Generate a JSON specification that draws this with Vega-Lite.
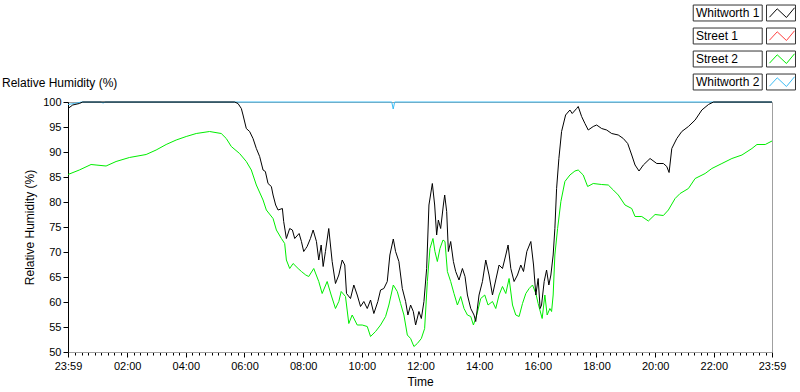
{
  "$schema": "https://vega.github.io/schema/vega-lite/v6.json",
  "width": 704,
  "height": 250,
  "autosize": {"type": "none"},
  "padding": {"left": 68, "top": 102, "right": 28, "bottom": 40},
  "background": "white",
  "title": {"text": "Relative Humidity (%)", "anchor": "start", "frame": "group", "dx": -66, "dy": 88, "offset": 0, "fontSize": 12, "fontWeight": "normal", "font": "Liberation Sans", "color": "#000"},
  "config": {
    "view": {"stroke": "#a0a0a0", "strokeWidth": 1},
    "axis": {"labelFont": "Liberation Sans", "titleFont": "Liberation Sans", "labelColor": "#000", "titleColor": "#000", "titleFontWeight": "normal", "grid": false, "tickColor": "#000"}
  },
  "datasets": {
    "s1": [],
    "w2": [{"t": -0.0167, "rh": 99.5}, {"t": 0.2, "rh": 99.7}, {"t": 0.45, "rh": 100}, {"t": 1.1, "rh": 100}, {"t": 1.18, "rh": 99.8}, {"t": 1.26, "rh": 100}, {"t": 11.02, "rh": 100}, {"t": 11.07, "rh": 98.6}, {"t": 11.12, "rh": 100}, {"t": 23.9833, "rh": 100}],
    "s2": [{"t": -0.0167, "rh": 85.5}, {"t": 0.369, "rh": 86.4}, {"t": 0.769, "rh": 87.5}, {"t": 0.939, "rh": 87.4}, {"t": 1.281, "rh": 87.2}, {"t": 1.622, "rh": 88.1}, {"t": 2.077, "rh": 88.9}, {"t": 2.647, "rh": 89.5}, {"t": 2.988, "rh": 90.4}, {"t": 3.33, "rh": 91.5}, {"t": 3.672, "rh": 92.4}, {"t": 4.013, "rh": 93.1}, {"t": 4.355, "rh": 93.7}, {"t": 4.809, "rh": 94.1}, {"t": 5.208, "rh": 93.7}, {"t": 5.379, "rh": 92.7}, {"t": 5.55, "rh": 91.1}, {"t": 5.833, "rh": 89.7}, {"t": 6.062, "rh": 88.1}, {"t": 6.233, "rh": 86.4}, {"t": 6.404, "rh": 83.4}, {"t": 6.633, "rh": 80.4}, {"t": 6.745, "rh": 78.4}, {"t": 6.974, "rh": 76.7}, {"t": 7.087, "rh": 74.4}, {"t": 7.258, "rh": 72.7}, {"t": 7.37, "rh": 71.7}, {"t": 7.428, "rh": 68.4}, {"t": 7.541, "rh": 66.7}, {"t": 7.657, "rh": 67.7}, {"t": 7.828, "rh": 66.7}, {"t": 7.941, "rh": 66.1}, {"t": 8.088, "rh": 65.4}, {"t": 8.19, "rh": 65.1}, {"t": 8.361, "rh": 66.7}, {"t": 8.532, "rh": 64.1}, {"t": 8.648, "rh": 61.7}, {"t": 8.818, "rh": 64.1}, {"t": 8.955, "rh": 61.4}, {"t": 9.102, "rh": 58.7}, {"t": 9.215, "rh": 60.1}, {"t": 9.297, "rh": 62.1}, {"t": 9.443, "rh": 61.1}, {"t": 9.556, "rh": 55.7}, {"t": 9.672, "rh": 57.4}, {"t": 9.843, "rh": 55.4}, {"t": 10.014, "rh": 55.4}, {"t": 10.185, "rh": 55.1}, {"t": 10.297, "rh": 53.1}, {"t": 10.468, "rh": 54.1}, {"t": 10.639, "rh": 55.4}, {"t": 10.81, "rh": 57.1}, {"t": 10.922, "rh": 59.4}, {"t": 11.073, "rh": 63.4}, {"t": 11.209, "rh": 62.1}, {"t": 11.322, "rh": 59.7}, {"t": 11.435, "rh": 57.4}, {"t": 11.551, "rh": 53.4}, {"t": 11.663, "rh": 52.7}, {"t": 11.776, "rh": 51.1}, {"t": 11.892, "rh": 51.7}, {"t": 12.029, "rh": 52.7}, {"t": 12.141, "rh": 54.7}, {"t": 12.234, "rh": 64.1}, {"t": 12.323, "rh": 70.7}, {"t": 12.425, "rh": 72.7}, {"t": 12.493, "rh": 70.1}, {"t": 12.575, "rh": 68.1}, {"t": 12.664, "rh": 70.7}, {"t": 12.767, "rh": 72.4}, {"t": 12.835, "rh": 72.1}, {"t": 12.917, "rh": 66.1}, {"t": 13.029, "rh": 64.1}, {"t": 13.142, "rh": 61.7}, {"t": 13.258, "rh": 59.4}, {"t": 13.371, "rh": 61.1}, {"t": 13.484, "rh": 58.7}, {"t": 13.6, "rh": 57.4}, {"t": 13.713, "rh": 57.1}, {"t": 13.805, "rh": 55.4}, {"t": 13.917, "rh": 57.4}, {"t": 14.054, "rh": 60.7}, {"t": 14.191, "rh": 61.4}, {"t": 14.303, "rh": 59.4}, {"t": 14.454, "rh": 60.1}, {"t": 14.566, "rh": 58.7}, {"t": 14.679, "rh": 61.4}, {"t": 14.795, "rh": 63.1}, {"t": 14.908, "rh": 61.7}, {"t": 15.021, "rh": 64.7}, {"t": 15.137, "rh": 59.4}, {"t": 15.249, "rh": 57.4}, {"t": 15.362, "rh": 57.1}, {"t": 15.478, "rh": 59.7}, {"t": 15.591, "rh": 61.7}, {"t": 15.704, "rh": 62.7}, {"t": 15.82, "rh": 63.4}, {"t": 15.933, "rh": 61.7}, {"t": 16.011, "rh": 59.7}, {"t": 16.148, "rh": 56.7}, {"t": 16.24, "rh": 61.4}, {"t": 16.318, "rh": 57.4}, {"t": 16.411, "rh": 58.7}, {"t": 16.469, "rh": 58.1}, {"t": 16.523, "rh": 61.4}, {"t": 16.581, "rh": 69.4}, {"t": 16.674, "rh": 74.7}, {"t": 16.786, "rh": 80.1}, {"t": 16.923, "rh": 84.1}, {"t": 17.094, "rh": 85.4}, {"t": 17.265, "rh": 86.2}, {"t": 17.377, "rh": 86.4}, {"t": 17.548, "rh": 85.4}, {"t": 17.698, "rh": 83.1}, {"t": 17.889, "rh": 83.7}, {"t": 18.176, "rh": 83.5}, {"t": 18.402, "rh": 83.4}, {"t": 18.573, "rh": 82.4}, {"t": 18.743, "rh": 81.4}, {"t": 18.972, "rh": 79.4}, {"t": 19.201, "rh": 78.7}, {"t": 19.314, "rh": 77.1}, {"t": 19.543, "rh": 77.1}, {"t": 19.768, "rh": 76.2}, {"t": 19.997, "rh": 77.5}, {"t": 20.28, "rh": 77.3}, {"t": 20.451, "rh": 78.4}, {"t": 20.68, "rh": 80.7}, {"t": 20.85, "rh": 81.7}, {"t": 21.134, "rh": 82.7}, {"t": 21.363, "rh": 84.7}, {"t": 21.704, "rh": 85.7}, {"t": 21.933, "rh": 86.7}, {"t": 22.275, "rh": 87.7}, {"t": 22.616, "rh": 88.7}, {"t": 22.958, "rh": 89.4}, {"t": 23.299, "rh": 90.7}, {"t": 23.47, "rh": 91.5}, {"t": 23.753, "rh": 91.5}, {"t": 23.9833, "rh": 92.2}],
    "w1": [{"t": -0.0167, "rh": 98.7}, {"t": 0.144, "rh": 99.4}, {"t": 0.369, "rh": 99.7}, {"t": 0.485, "rh": 100}, {"t": 5.663, "rh": 100}, {"t": 5.779, "rh": 99.7}, {"t": 5.892, "rh": 98.7}, {"t": 5.95, "rh": 97.4}, {"t": 6.062, "rh": 94.7}, {"t": 6.175, "rh": 94.1}, {"t": 6.291, "rh": 92.7}, {"t": 6.404, "rh": 90.7}, {"t": 6.517, "rh": 89.1}, {"t": 6.633, "rh": 86.4}, {"t": 6.711, "rh": 86.1}, {"t": 6.803, "rh": 83.7}, {"t": 6.916, "rh": 83.1}, {"t": 6.974, "rh": 81.4}, {"t": 7.063, "rh": 79.4}, {"t": 7.145, "rh": 78.4}, {"t": 7.292, "rh": 78.7}, {"t": 7.336, "rh": 76.1}, {"t": 7.428, "rh": 72.7}, {"t": 7.541, "rh": 74.7}, {"t": 7.633, "rh": 74.4}, {"t": 7.712, "rh": 72.7}, {"t": 7.862, "rh": 73.7}, {"t": 7.941, "rh": 72.1}, {"t": 8.019, "rh": 70.1}, {"t": 8.088, "rh": 70.7}, {"t": 8.135, "rh": 71.1}, {"t": 8.248, "rh": 72.7}, {"t": 8.34, "rh": 74.4}, {"t": 8.453, "rh": 72.1}, {"t": 8.532, "rh": 68.4}, {"t": 8.614, "rh": 71.4}, {"t": 8.682, "rh": 67.1}, {"t": 8.76, "rh": 70.1}, {"t": 8.873, "rh": 74.7}, {"t": 8.989, "rh": 68.1}, {"t": 9.102, "rh": 63.7}, {"t": 9.215, "rh": 65.4}, {"t": 9.331, "rh": 68.4}, {"t": 9.419, "rh": 67.4}, {"t": 9.478, "rh": 61.7}, {"t": 9.614, "rh": 60.7}, {"t": 9.727, "rh": 63.4}, {"t": 9.843, "rh": 61.4}, {"t": 9.956, "rh": 59.1}, {"t": 10.068, "rh": 60.1}, {"t": 10.185, "rh": 58.7}, {"t": 10.297, "rh": 60.4}, {"t": 10.41, "rh": 57.7}, {"t": 10.546, "rh": 60.1}, {"t": 10.639, "rh": 62.4}, {"t": 10.751, "rh": 62.7}, {"t": 10.867, "rh": 64.1}, {"t": 10.956, "rh": 69.4}, {"t": 11.073, "rh": 72.6}, {"t": 11.151, "rh": 70.1}, {"t": 11.264, "rh": 68.1}, {"t": 11.38, "rh": 62.7}, {"t": 11.493, "rh": 60.1}, {"t": 11.571, "rh": 57.4}, {"t": 11.663, "rh": 59.4}, {"t": 11.755, "rh": 58.1}, {"t": 11.834, "rh": 55.4}, {"t": 11.947, "rh": 58.1}, {"t": 12.029, "rh": 56.7}, {"t": 12.118, "rh": 60.1}, {"t": 12.21, "rh": 66.7}, {"t": 12.288, "rh": 79.4}, {"t": 12.404, "rh": 83.7}, {"t": 12.483, "rh": 79.4}, {"t": 12.551, "rh": 73.4}, {"t": 12.609, "rh": 76.4}, {"t": 12.688, "rh": 74.7}, {"t": 12.78, "rh": 79.4}, {"t": 12.825, "rh": 81.4}, {"t": 12.893, "rh": 78.1}, {"t": 12.951, "rh": 70.1}, {"t": 13.029, "rh": 72.1}, {"t": 13.122, "rh": 68.1}, {"t": 13.2, "rh": 66.1}, {"t": 13.313, "rh": 64.4}, {"t": 13.429, "rh": 66.7}, {"t": 13.518, "rh": 65.1}, {"t": 13.6, "rh": 61.4}, {"t": 13.713, "rh": 58.7}, {"t": 13.825, "rh": 57.4}, {"t": 13.883, "rh": 56.1}, {"t": 13.996, "rh": 61.4}, {"t": 14.112, "rh": 64.1}, {"t": 14.225, "rh": 68.4}, {"t": 14.337, "rh": 65.4}, {"t": 14.454, "rh": 61.4}, {"t": 14.566, "rh": 64.4}, {"t": 14.679, "rh": 67.4}, {"t": 14.795, "rh": 66.7}, {"t": 14.908, "rh": 69.4}, {"t": 14.986, "rh": 71.4}, {"t": 15.079, "rh": 66.7}, {"t": 15.191, "rh": 64.1}, {"t": 15.307, "rh": 65.4}, {"t": 15.42, "rh": 67.4}, {"t": 15.512, "rh": 66.1}, {"t": 15.625, "rh": 70.1}, {"t": 15.762, "rh": 72.1}, {"t": 15.854, "rh": 67.4}, {"t": 15.933, "rh": 61.4}, {"t": 16.011, "rh": 64.7}, {"t": 16.079, "rh": 58.7}, {"t": 16.127, "rh": 59.4}, {"t": 16.216, "rh": 64.1}, {"t": 16.298, "rh": 66.4}, {"t": 16.376, "rh": 63.4}, {"t": 16.445, "rh": 65.4}, {"t": 16.523, "rh": 69.4}, {"t": 16.581, "rh": 74.7}, {"t": 16.64, "rh": 82.7}, {"t": 16.718, "rh": 88.7}, {"t": 16.81, "rh": 94.1}, {"t": 16.947, "rh": 97.4}, {"t": 17.094, "rh": 98.4}, {"t": 17.172, "rh": 97.7}, {"t": 17.323, "rh": 98.7}, {"t": 17.377, "rh": 99.1}, {"t": 17.493, "rh": 97.1}, {"t": 17.606, "rh": 95.7}, {"t": 17.719, "rh": 94.4}, {"t": 17.889, "rh": 95.1}, {"t": 18.005, "rh": 95.4}, {"t": 18.176, "rh": 94.7}, {"t": 18.347, "rh": 94.4}, {"t": 18.518, "rh": 93.7}, {"t": 18.743, "rh": 93.4}, {"t": 18.914, "rh": 92.7}, {"t": 19.064, "rh": 91.7}, {"t": 19.201, "rh": 89.4}, {"t": 19.314, "rh": 87.4}, {"t": 19.45, "rh": 86.2}, {"t": 19.597, "rh": 87.4}, {"t": 19.826, "rh": 88.7}, {"t": 20.055, "rh": 87.7}, {"t": 20.28, "rh": 87.7}, {"t": 20.396, "rh": 87.1}, {"t": 20.475, "rh": 85.9}, {"t": 20.567, "rh": 90.7}, {"t": 20.738, "rh": 92.7}, {"t": 20.908, "rh": 94.1}, {"t": 21.134, "rh": 95.1}, {"t": 21.363, "rh": 96.4}, {"t": 21.592, "rh": 98.4}, {"t": 21.817, "rh": 99.5}, {"t": 21.988, "rh": 100}, {"t": 23.9833, "rh": 100}],
    "keys": [{"key": "k1"}, {"key": "k2"}, {"key": "k3"}, {"key": "k4"}]
  },
  "layer": [
    {
      "data": {"name": "s1"},
      "mark": {"type": "line", "strokeWidth": 1, "interpolate": "linear"},
      "encoding": {
        "x": {"field": "t", "type": "quantitative", "scale": {"domain": [-0.0167, 23.9833], "nice": false, "zero": false},
          "axis": {"title": "Time", "titleFontSize": 12, "titlePadding": 5, "labelFontSize": 11, "labelPadding": 3, "domainColor": "#a0a0a0", "labelOverlap": false, "labelFlush": false, "labelBound": false, "tickCount": 500,
            "values": [-0.0167, 0.2222, 0.4444, 0.6667, 0.8889, 1.1111, 1.3333, 1.5556, 1.7778, 2, 2.2222, 2.4444, 2.6667, 2.8889, 3.1111, 3.3333, 3.5556, 3.7778, 4, 4.2222, 4.4444, 4.6667, 4.8889, 5.1111, 5.3333, 5.5556, 5.7778, 6, 6.2222, 6.4444, 6.6667, 6.8889, 7.1111, 7.3333, 7.5556, 7.7778, 8, 8.2222, 8.4444, 8.6667, 8.8889, 9.1111, 9.3333, 9.5556, 9.7778, 10, 10.2222, 10.4444, 10.6667, 10.8889, 11.1111, 11.3333, 11.5556, 11.7778, 12, 12.2222, 12.4444, 12.6667, 12.8889, 13.1111, 13.3333, 13.5556, 13.7778, 14, 14.2222, 14.4444, 14.6667, 14.8889, 15.1111, 15.3333, 15.5556, 15.7778, 16, 16.2222, 16.4444, 16.6667, 16.8889, 17.1111, 17.3333, 17.5556, 17.7778, 18, 18.2222, 18.4444, 18.6667, 18.8889, 19.1111, 19.3333, 19.5556, 19.7778, 20, 20.2222, 20.4444, 20.6667, 20.8889, 21.1111, 21.3333, 21.5556, 21.7778, 22, 22.2222, 22.4444, 22.6667, 22.8889, 23.1111, 23.3333, 23.5556, 23.7778, 23.9833],
            "labelExpr": "(datum.value < 0.01 || datum.value > 23.9) ? '23:59' : (abs(datum.value / 2 - round(datum.value / 2)) < 0.001 ? (datum.value < 10 ? '0' : '') + round(datum.value) + ':00' : '')",
            "tickSize": {"condition": {"test": "datum.value < 0.01 || datum.value > 23.9 || abs(datum.value / 2 - round(datum.value / 2)) < 0.001", "value": 5}, "value": 3}
          }
        },
        "y": {"field": "rh", "type": "quantitative", "scale": {"domain": [50, 100], "nice": false, "zero": false},
          "axis": {"title": "Relative Humidity (%)", "titleFontSize": 12, "titlePadding": 6, "labelFontSize": 11, "labelPadding": 2, "tickSize": 5, "tickCount": 50, "domainColor": "#000", "values": [50, 55, 60, 65, 70, 75, 80, 85, 90, 95, 100]}
        },
        "color": {"datum": "Street 1", "type": "nominal",
          "scale": {"domain": ["Whitworth 1", "Street 1", "Street 2", "Whitworth 2"], "range": ["#000000", "#ff4040", "#00ee00", "#3cbcf4"]},
          "legend": {"title": null, "orient": "none", "legendX": 702, "legendY": -100, "padding": 0, "symbolType": "M-1.1,0.4L-0.36,-0.4L0.52,0.43L1.29,-0.5", "symbolSize": 441, "symbolStrokeWidth": 1, "symbolFillColor": "transparent", "rowPadding": 5, "labelAlign": "left", "labelBaseline": "middle", "labelOffset": -96, "labelFontSize": 12, "labelFont": "Liberation Sans", "labelColor": "#000", "labelLimit": 0}
        }
      }
    },
    {
      "data": {"name": "w2"},
      "mark": {"type": "line", "strokeWidth": 1},
      "encoding": {
        "x": {"field": "t", "type": "quantitative"},
        "y": {"field": "rh", "type": "quantitative"},
        "color": {"datum": "Whitworth 2", "type": "nominal"}
      }
    },
    {
      "data": {"name": "s2"},
      "mark": {"type": "line", "strokeWidth": 1},
      "encoding": {
        "x": {"field": "t", "type": "quantitative"},
        "y": {"field": "rh", "type": "quantitative"},
        "color": {"datum": "Street 2", "type": "nominal"}
      }
    },
    {
      "data": {"name": "w1"},
      "mark": {"type": "line", "strokeWidth": 1},
      "encoding": {
        "x": {"field": "t", "type": "quantitative"},
        "y": {"field": "rh", "type": "quantitative"},
        "color": {"datum": "Whitworth 1", "type": "nominal"}
      }
    },
    {
      "data": {"name": "keys"},
      "mark": {"type": "point", "opacity": 0, "filled": false},
      "encoding": {
        "shape": {"field": "key", "type": "nominal",
          "scale": {"domain": ["k1", "k2", "k3", "k4"], "range": ["M-8.36,-0.76H-1.79V0.76H-8.36Z M-1.38,-0.76H1.38V0.76H-1.38Z", "M-8.36,-0.76H-1.79V0.76H-8.36Z M-1.38,-0.76H1.38V0.76H-1.38Z", "M-8.36,-0.76H-1.79V0.76H-8.36Z M-1.38,-0.76H1.38V0.76H-1.38Z", "M-8.36,-0.76H-1.79V0.76H-8.36Z M-1.38,-0.76H1.38V0.76H-1.38Z"]},
          "legend": {"title": null, "orient": "none", "legendX": 702, "legendY": -100, "padding": 0, "symbolSize": 441, "symbolStrokeWidth": 1, "symbolStrokeColor": "#333", "symbolFillColor": "transparent", "symbolOpacity": 1, "rowPadding": 2, "labelExpr": "''", "labelOpacity": 0}
        }
      }
    }
  ]
}
